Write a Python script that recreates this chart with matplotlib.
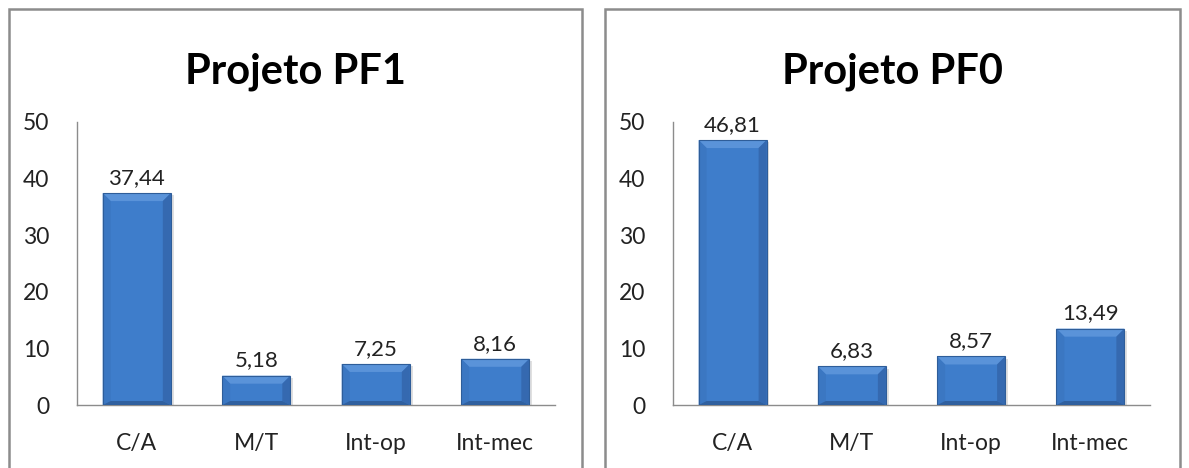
import numpy as np
import matplotlib
matplotlib.use("Agg")
import matplotlib.pyplot as plt
from matplotlib.patches import Rectangle, Polygon

categories = ["C/A", "M/T", "Int-op", "Int-mec"]
pf1_values = [37.44, 5.18, 7.25, 8.16]
pf0_values = [46.81, 6.83, 8.57, 13.49]
titles = ["Projeto PF1", "Projeto PF0"]
yticks = [0, 10, 20, 30, 40, 50]

plt.rcParams["font.family"] = ["Lato", "DejaVu Sans"]

W, H = 1189, 468
fig = plt.figure(figsize=(W / 100, H / 100), dpi=100)
fig.patch.set_facecolor("white")

FACE = "#3e7dcb"
TOP = "#5a93d9"
SIDE_L = "#3b77c2"
SIDE_R = "#3569b0"
BOTTOM = "#30609f"
BEVEL_PX = 8


def fmt(v):
    return f"{v:.2f}".replace(".", ",")


def draw_panel(px0, px1, ax_x0, ax_x1, title, values):
    # panel frame
    fig.add_artist(Rectangle((px0 / W, -0.05), (px1 - px0) / W, 1.05 - 9 / H,
                             transform=fig.transFigure, fill=False,
                             edgecolor="#8c8c8c", linewidth=1.8))
    fig.text((px0 + px1) / 2 / W, 1 - 72 / H, title, ha="center", va="center",
             fontsize=30, fontweight="bold", color="black")
    bottom = 1 - 405 / H
    top = 1 - 122 / H
    ax = fig.add_axes([ax_x0 / W, bottom, (ax_x1 - ax_x0) / W, top - bottom])
    x = np.arange(len(categories))
    ax.set_xlim(-0.5, len(categories) - 0.5)
    ax.set_ylim(0, 50)
    bars = ax.bar(x, values, width=0.57, color=FACE, edgecolor="none", zorder=2)

    # bevel size in data units
    ax_w_px = ax_x1 - ax_x0
    ax_h_px = 405 - 122
    dx = BEVEL_PX * len(categories) / ax_w_px
    dy = BEVEL_PX * 50 / ax_h_px
    for b, v in zip(bars, values):
        x0, w, h = b.get_x(), b.get_width(), b.get_height()
        x1 = x0 + w
        # soft drop shadow on the right
        ax.add_patch(Rectangle((x1, 0), dx * 0.35, h - dy * 0.3,
                               facecolor="#9a9a9a", alpha=0.3,
                               edgecolor="none", zorder=1))
        polys = [
            ([(x0, h), (x1, h), (x1 - dx, h - dy), (x0 + dx, h - dy)], TOP),
            ([(x0, 0), (x0 + dx, dy * 0.5), (x0 + dx, h - dy), (x0, h)], SIDE_L),
            ([(x1, 0), (x1 - dx, dy * 0.5), (x1 - dx, h - dy), (x1, h)], SIDE_R),
            ([(x0, 0), (x1, 0), (x1 - dx, dy * 0.5), (x0 + dx, dy * 0.5)], BOTTOM),
        ]
        for pts, c in polys:
            ax.add_patch(Polygon(pts, closed=True, facecolor=c,
                                 edgecolor="none", zorder=3))
        ax.add_patch(Rectangle((x0, 0), w, h, fill=False,
                               edgecolor="#2e5d99", linewidth=0.8, zorder=4))
        ax.text(x0 + w / 2, h + 0.9, fmt(v), ha="center", va="bottom",
                fontsize=16, color="#222222", zorder=5)

    ax.set_yticks(yticks)
    ax.set_xticks(x)
    ax.set_xticklabels(categories)
    ax.tick_params(axis="both", length=0, labelsize=16.5, colors="#222222")
    ax.tick_params(axis="y", pad=20)
    ax.tick_params(axis="x", pad=20)
    for s in ("top", "right"):
        ax.spines[s].set_visible(False)
    for s in ("left", "bottom"):
        ax.spines[s].set_color("#8c8c8c")
        ax.spines[s].set_linewidth(1.0)
    ax.set_facecolor("none")
    return ax


draw_panel(9, 582, 77, 555, titles[0], pf1_values)
draw_panel(605, 1180, 673, 1150, titles[1], pf0_values)

fig.savefig("out.png", dpi=100, facecolor="white")
